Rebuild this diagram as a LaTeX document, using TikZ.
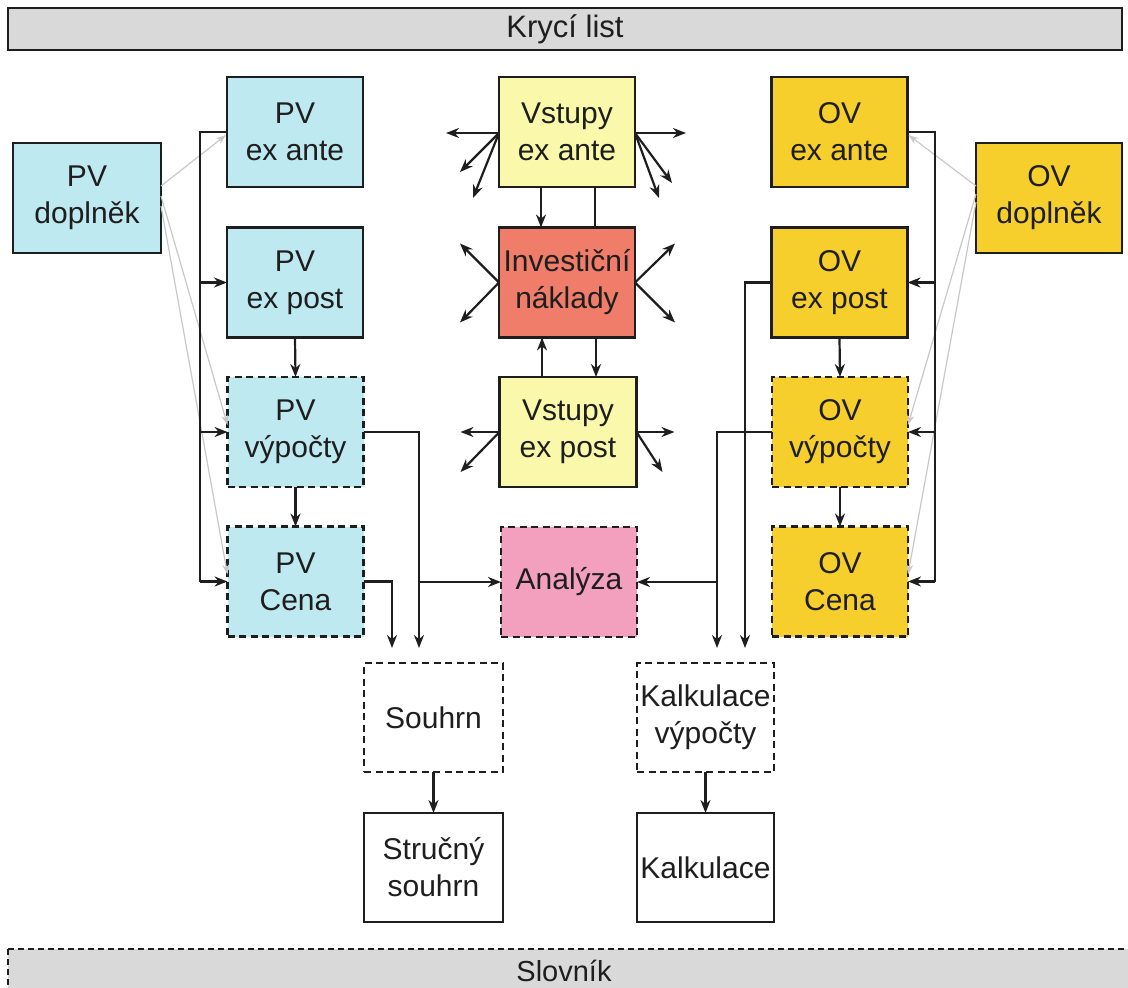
\documentclass[tikz,border=0pt]{standalone}
\usepackage{fontspec}
\setmainfont{Liberation Sans}
\usetikzlibrary{arrows.meta,calc}
\definecolor{linec}{HTML}{1E1E1E}
\definecolor{hintc}{HTML}{C8C8C8}
\definecolor{barc}{HTML}{D9D9D9}
\definecolor{pvfill}{HTML}{BFE9F1}
\definecolor{vfill}{HTML}{FAF8AA}
\definecolor{invfill}{HTML}{EF7D69}
\definecolor{anafill}{HTML}{F2A0BE}
\definecolor{ovfill}{HTML}{F7CF2C}
\begin{document}
\begin{tikzpicture}[x=1pt,y=-1pt,
  box/.style={draw=linec,line width=2.3pt,minimum width=136pt,minimum height=110pt,
    inner sep=0pt,outer sep=0pt,align=center,font=\fontsize{30}{37}\selectfont,text=linec},
  dbox/.style={box,dash pattern=on 7pt off 4.5pt},
  ln/.style={draw=linec,line width=2.2pt},
  arr/.style={ln,-{Stealth[length=13pt,width=10pt]}},
  hint/.style={draw=hintc,line width=1.2pt,-{Stealth[length=10pt,width=7pt]}},
  bartext/.style={font=\fontsize{29}{32}\selectfont,text=linec}]
\useasboundingbox (0,0) rectangle (1128,988);
\clip (0,0) rectangle (1128,988);

% header and footer bars
\node[draw=linec,line width=2.2pt,fill=barc,minimum width=1114pt,minimum height=42pt,
  inner sep=0pt,bartext,font=\fontsize{31}{32}\selectfont] (kryci) at (565,29) {Krycí list};
\draw[draw=linec,line width=2pt,fill=barc,dash pattern=on 6pt off 4pt] (8,949) rectangle (1140,1000);
\node[bartext] (slovnik) at (564,971) {Slovník};

% PV column
\node[box,fill=pvfill,minimum width=148pt] (pvd) at (87,198) {PV\\doplněk};
\node[box,fill=pvfill] (pvea) at (295,132) {PV\\ex ante};
\node[box,fill=pvfill] (pvep) at (295,282.5) {PV\\ex post};
\node[dbox,fill=pvfill] (pvv) at (295.5,432) {PV\\výpočty};
\node[dbox,fill=pvfill] (pvc) at (295.5,581.5) {PV\\Cena};

% central column
\node[box,fill=vfill] (vea) at (567,132) {Vstupy\\ex ante};
\node[box,fill=invfill] (inv) at (567,282.5) {Investiční\\náklady};
\node[box,fill=vfill,minimum width=137pt] (vep) at (568,432) {Vstupy\\ex post};
\node[dbox,fill=anafill] (ana) at (569,582) {Analýza};

% OV column
\node[box,fill=ovfill,minimum width=146pt] (ovd) at (1049,198) {OV\\doplněk};
\node[box,fill=ovfill] (ovea) at (839.5,132) {OV\\ex ante};
\node[box,fill=ovfill] (ovep) at (839.5,282.5) {OV\\ex post};
\node[dbox,fill=ovfill] (ovv) at (840,432) {OV\\výpočty};
\node[dbox,fill=ovfill] (ovc) at (840,581.5) {OV\\Cena};

% outputs
\node[dbox,fill=white,minimum width=139pt,minimum height=109pt] (souhrn) at (433.5,717.5) {Souhrn};
\node[box,fill=white,minimum width=139pt,minimum height=109pt] (strucny) at (433.5,867.5) {Stručný\\souhrn};
\node[dbox,fill=white,minimum width=137pt,minimum height=109pt] (kalkv) at (705.5,717.5) {Kalkulace\\výpočty};
\node[box,fill=white,minimum width=137pt,minimum height=109pt] (kalk) at (705.5,867.5) {Kalkulace};

% supplementary links (light)
\draw[hint] ($(pvd.east)+(0,-12)$) -- ($(pvea.west)+(-1,3)$);
\draw[hint] ($(pvd.east)+(0,-2)$) -- ($(pvv.west)+(0,-7)$);
\draw[hint] ($(pvd.east)+(0,8)$) -- ($(pvc.west)+(0,-7)$);
\draw[hint] ($(ovd.west)+(0,-12)$) -- ($(ovea.east)+(1,3)$);
\draw[hint] ($(ovd.west)+(0,-4)$) -- ($(ovv.east)+(0,-7)$);
\draw[hint] ($(ovd.west)+(0,4)$) -- ($(ovc.east)+(0,-7)$);

% left distribution bus
\coordinate (busL) at (200,132);
\draw[ln] (pvea.west) -- (busL) -- (busL |- pvc.west);
\draw[arr] (busL |- pvep.west) -- (pvep.west);
\draw[arr] (busL |- pvv.west) -- (pvv.west);
\draw[arr] (busL |- pvc.west) -- (pvc.west);
\draw[arr] (pvep.south) -- (pvv.north);
\draw[arr] (pvv.south) -- (pvc.north);

% right distribution bus
\coordinate (busR) at (935,132);
\draw[ln] (ovea.east) -- (busR) -- (busR |- ovc.east);
\draw[arr] (busR |- ovep.east) -- (ovep.east);
\draw[arr] (busR |- ovv.east) -- (ovv.east);
\draw[arr] (busR |- ovc.east) -- (ovc.east);
\draw[arr] (ovep.south) -- (ovv.north);
\draw[arr] (ovv.south) -- (ovc.north);

% towards summary and analysis
\coordinate (sA) at (392,648);
\coordinate (sB) at (419,648);
\draw[arr] (pvc.east) -| (sA);
\draw[arr] (pvv.east) -| (sB);
\draw[arr] (sB |- ana.west) -- (ana.west);
\coordinate (kA) at (717,648);
\coordinate (kB) at (745,648);
\draw[arr] (ovv.west) -| (kA);
\draw[arr] (ovep.west) -| (kB);
\draw[arr] (kA |- ana.east) -- (ana.east);
\draw[arr] (souhrn.south) -- (strucny.north);
\draw[arr] (kalkv.south) -- (kalk.north);

% central links
\draw[arr] ($(vea.south)+(-26,0)$) -- ($(inv.north)+(-26,0)$);
\draw[ln] ($(vea.south)+(28,0)$) -- ($(inv.north)+(28,0)$);
\draw[arr] ($(vep.north)+(-26,0)$) -- ($(inv.south)+(-25,0)$);
\draw[arr] ($(inv.south)+(29,0)$) -- ($(vep.north)+(28,0)$);

% outgoing fans
\draw[arr] ($(vea.west)+(0,1)$) -- +(-53,0);
\draw[arr] ($(vea.west)+(0,1)$) -- +(-39,39);
\draw[arr] ($(vea.west)+(0,1)$) -- +(-26,65);
\draw[arr] ($(vea.east)+(0,1)$) -- +(51,0);
\draw[arr] ($(vea.east)+(0,1)$) -- +(37,50);
\draw[arr] ($(vea.east)+(0,1)$) -- +(24,65);
\draw[arr] (inv.west) -- +(-39,-39);
\draw[arr] (inv.west) -- +(-39,40);
\draw[arr] (inv.east) -- +(40,-39);
\draw[arr] (inv.east) -- +(40,40);
\draw[arr] (vep.west) -- +(-39,0);
\draw[arr] (vep.west) -- +(-39,40);
\draw[arr] (vep.east) -- +(38,0);
\draw[arr] (vep.east) -- +(26,40);
\end{tikzpicture}
\end{document}
